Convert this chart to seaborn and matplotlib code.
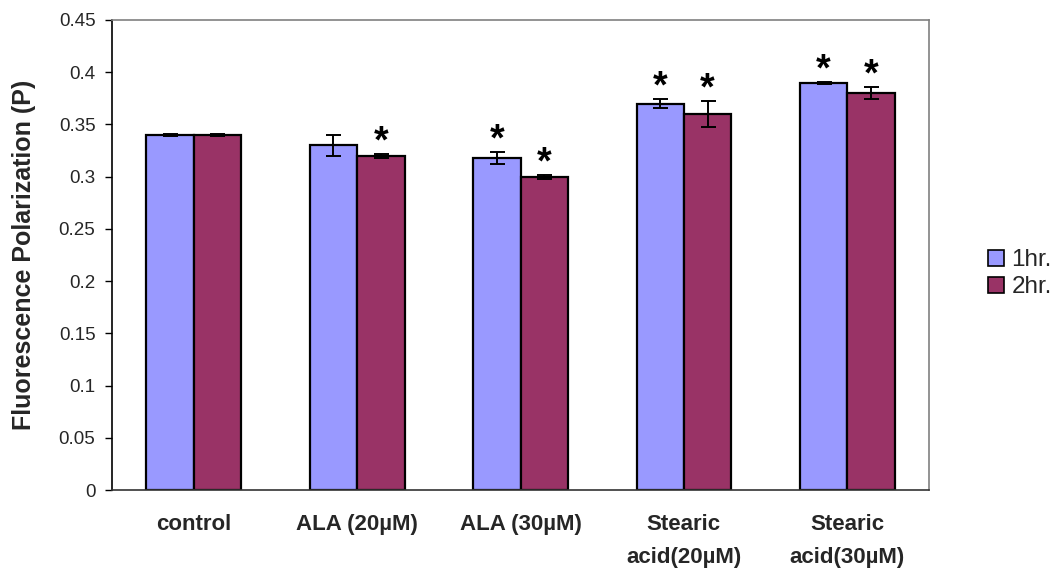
import matplotlib
matplotlib.use("Agg")
import matplotlib.pyplot as plt
import seaborn as sns
import pandas as pd
import numpy as np

categories = ["control", "ALA (20µM)", "ALA (30µM)", "Stearic\nacid(20µM)", "Stearic\nacid(30µM)"]
series_names = ["1hr.", "2hr."]
values_1hr = [0.34, 0.33, 0.318, 0.37, 0.39]
values_2hr = [0.34, 0.32, 0.30, 0.36, 0.38]
errors_1hr = [0.001, 0.010, 0.006, 0.004, 0.001]
errors_2hr = [0.001, 0.002, 0.002, 0.012, 0.006]
signif_1hr = [False, False, True, True, True]
signif_2hr = [False, True, True, True, True]
y_ticks = [0, 0.05, 0.1, 0.15, 0.2, 0.25, 0.3, 0.35, 0.4, 0.45]
y_tick_labels = ["0", "0.05", "0.1", "0.15", "0.2", "0.25", "0.3", "0.35", "0.4", "0.45"]

sns.set_style("white")
plt.rcParams['font.family'] = ['Liberation Sans', 'DejaVu Sans']

df = pd.DataFrame({
    "cat": categories * 2,
    "series": [series_names[0]] * len(categories) + [series_names[1]] * len(categories),
    "value": values_1hr + values_2hr,
})

fig = plt.figure(figsize=(10.6, 5.69), dpi=100)
ax = fig.add_axes([0.1057, 0.1388, 0.8764 - 0.1057, 0.9649 - 0.1388])

sns.barplot(data=df, x="cat", y="value", hue="series", order=categories,
            hue_order=series_names, palette=["#9999FF", "#993366"], saturation=1,
            width=0.58, gap=0, edgecolor="black", linewidth=1.6,
            errorbar=None, ax=ax, legend=True)

errs = [errors_1hr, errors_2hr]
sigs = [signif_1hr, signif_2hr]
vals = [values_1hr, values_2hr]
bar_containers = list(ax.containers)
for si, cont in enumerate(bar_containers):
    for ci, bar in enumerate(cont.patches):
        xc = bar.get_x() + bar.get_width() / 2
        v = vals[si][ci]
        e = errs[si][ci]
        ax.errorbar(xc, v, yerr=e, fmt="none", ecolor="black", elinewidth=1.4,
                    capsize=5.4, capthick=1.4, zorder=5)
        if sigs[si][ci]:
            ax.text(xc, v + e + 0.011, "*", ha="center", va="center",
                    fontsize=27, fontweight="bold", color="black")

ax.set_ylim(0, 0.45)
ax.set_xlim(-0.5, len(categories) - 0.5)
ax.set_yticks(y_ticks)
ax.set_yticklabels(y_tick_labels, fontsize=13.5)
ax.set_xticks(range(len(categories)))
ax.set_xticklabels(categories, fontsize=16, fontweight="bold", linespacing=1.8, va="top")
ax.set_xticks(np.arange(-0.5, len(categories), 1.0), minor=True)
ax.tick_params(axis="x", which="major", length=0, pad=17)
ax.tick_params(axis="x", which="minor", length=5, width=1, color="#333333", direction="out")
ax.tick_params(axis="y", length=5, width=1, color="black", direction="out", pad=7, left=True)
ax.set_xlabel("")
ax.set_ylabel("Fluorescence Polarization (P)", fontsize=18, fontweight="bold", labelpad=16)

for s in ["top", "right"]:
    ax.spines[s].set_color("#808080")
    ax.spines[s].set_linewidth(1.2)
ax.spines["left"].set_color("black")
ax.spines["left"].set_linewidth(1.2)
ax.spines["bottom"].set_color("#333333")
ax.spines["bottom"].set_linewidth(1.2)

leg = ax.legend(loc="center left", bbox_to_anchor=(1.072, 0.46), frameon=False,
                fontsize=17.5, handlelength=0.65, handleheight=0.65, handletextpad=0.33,
                labelspacing=0.2, borderaxespad=0, borderpad=0)
for h in leg.legend_handles:
    h.set_edgecolor("black")
    h.set_linewidth(1.2)

fig.savefig("out.png", dpi=100)
